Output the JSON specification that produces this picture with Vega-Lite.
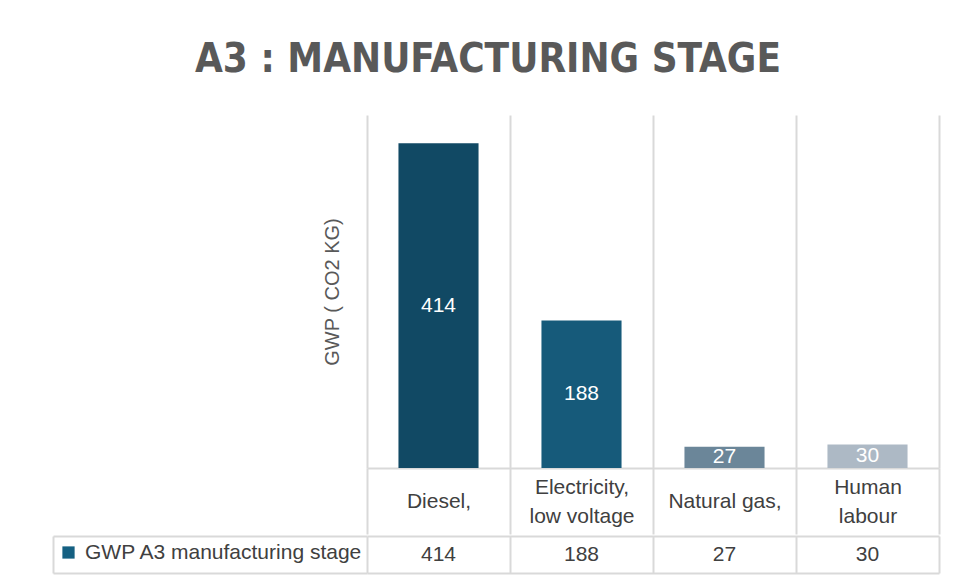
{
  "$schema": "https://vega.github.io/schema/vega-lite/v6.json",
  "background": "white",
  "padding": {"left": 52, "top": 40, "right": 19, "bottom": 5},
  "title": {
    "text": "A3 : MANUFACTURING STAGE",
    "fontSize": 40,
    "font": "Liberation Sans Narrow, DejaVu Sans Condensed, Liberation Sans",
    "fontWeight": "bold",
    "color": "#595959",
    "anchor": "middle",
    "offset": 35,
    "dx": -8
  },
  "datasets": {
    "main": [
      {"category": "Diesel,", "value": 414, "series": "GWP A3 manufacturing stage"},
      {"category": "Electricity, low voltage", "value": 188, "series": "GWP A3 manufacturing stage"},
      {"category": "Natural gas,", "value": 27, "series": "GWP A3 manufacturing stage"},
      {"category": "Human labour", "value": 30, "series": "GWP A3 manufacturing stage"}
    ]
  },
  "spacing": 0,
  "vconcat": [
    {
      "width": 572,
      "height": 353,
      "data": {"name": "main"},
      "encoding": {
        "x": {
          "field": "category",
          "type": "nominal",
          "sort": null,
          "scale": {"paddingInner": 0, "paddingOuter": 0},
          "axis": {
            "title": null,
            "orient": "bottom",
            "tickBand": "extent",
            "grid": true,
            "gridColor": "#d9d9d9",
            "gridWidth": 2,
            "domain": true,
            "domainColor": "#d9d9d9",
            "domainWidth": 2,
            "ticks": true,
            "tickSize": 66,
            "tickColor": "#d9d9d9",
            "tickWidth": 2,
            "labelAngle": 0,
            "labelFontSize": 21,
            "labelFont": "Liberation Sans",
            "labelColor": "#404040",
            "labelBaseline": "middle",
            "labelPadding": {
              "condition": {"test": "datum.value == 'Electricity, low voltage' || datum.value == 'Human labour'", "value": -47},
              "value": -33
            },
            "labelLineHeight": 29,
            "labelLimit": 0,
            "labelOverlap": false,
            "labelExpr": "datum.value == 'Electricity, low voltage' ? ['Electricity,', 'low voltage'] : datum.value == 'Human labour' ? ['Human', 'labour'] : datum.value"
          }
        }
      },
      "layer": [
        {
          "mark": {"type": "bar", "width": {"band": 0.56}},
          "encoding": {
            "y": {
              "field": "value",
              "type": "quantitative",
              "scale": {"domain": [0, 450]},
              "axis": {
                "title": "GWP ( CO2 KG)",
                "labels": false,
                "ticks": false,
                "domain": false,
                "grid": false,
                "titleFontSize": 20,
                "titleFont": "Liberation Sans",
                "titleFontWeight": "normal",
                "titleColor": "#595959",
                "titlePadding": 25
              }
            },
            "color": {
              "field": "category",
              "type": "nominal",
              "sort": null,
              "scale": {
                "domain": ["Diesel,", "Electricity, low voltage", "Natural gas,", "Human labour"],
                "range": ["#114964", "#165a7a", "#6b8699", "#adb9c5"]
              },
              "legend": null
            }
          }
        },
        {
          "mark": {"type": "text", "color": "white", "fontSize": 21, "font": "Liberation Sans", "baseline": "middle"},
          "encoding": {
            "y": {"field": "value", "type": "quantitative", "stack": "zero", "bandPosition": 0.5},
            "text": {"field": "value", "type": "quantitative"}
          }
        }
      ]
    },
    {
      "width": 572,
      "height": 37,
      "data": {"name": "main"},
      "layer": [
        {
          "mark": {"type": "text", "fontSize": 21, "font": "Liberation Sans", "color": "#404040", "baseline": "middle"},
          "encoding": {
            "x": {
              "field": "category",
              "type": "nominal",
              "sort": null,
              "scale": {"paddingInner": 0, "paddingOuter": 0},
              "axis": {
                "title": null,
                "labels": false,
                "ticks": false,
                "domain": false,
                "grid": true,
                "tickBand": "extent",
                "gridColor": "#d9d9d9",
                "gridWidth": 2
              }
            },
            "y": {
              "field": "series",
              "type": "nominal",
              "axis": {
                "title": null,
                "labels": false,
                "grid": true,
                "tickBand": "extent",
                "gridColor": "#d9d9d9",
                "gridWidth": 2,
                "ticks": true,
                "tickSize": -314,
                "tickColor": "#d9d9d9",
                "tickWidth": 2,
                "offset": 314,
                "domain": true,
                "domainColor": "#d9d9d9",
                "domainWidth": 2
              }
            },
            "text": {"field": "value", "type": "quantitative"}
          }
        },
        {
          "mark": {"type": "square", "opacity": 0},
          "encoding": {
            "y": {"field": "series", "type": "nominal"},
            "fill": {
              "field": "series",
              "type": "nominal",
              "scale": {"range": ["#156082"]},
              "legend": {
                "orient": "none",
                "legendX": -309,
                "legendY": 427,
                "title": null,
                "symbolType": "square",
                "symbolSize": 150,
                "symbolOpacity": 1,
                "symbolStrokeWidth": 0,
                "labelFontSize": 21,
                "labelFont": "Liberation Sans",
                "labelColor": "#404040",
                "labelOffset": 6,
                "padding": 0,
                "labelLimit": 0
              }
            }
          }
        }
      ]
    }
  ],
  "config": {
    "view": {"stroke": null}
  }
}
